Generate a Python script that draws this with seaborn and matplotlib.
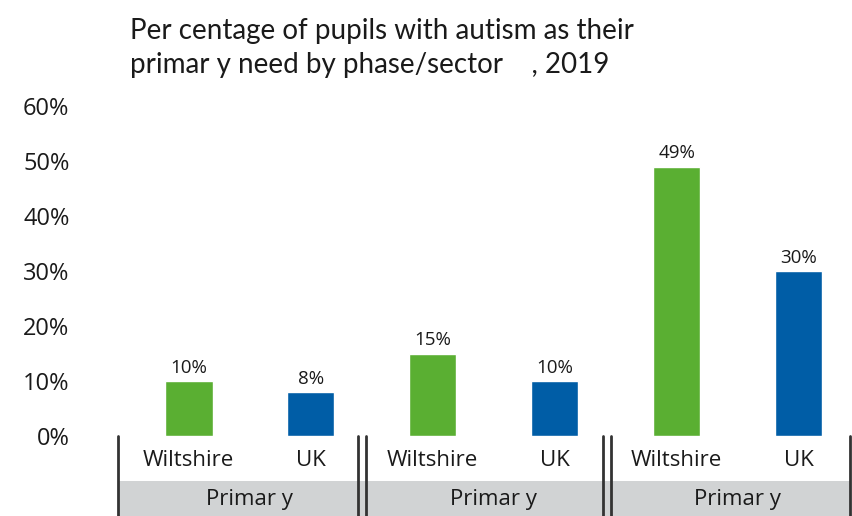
import matplotlib
matplotlib.use("Agg")
import matplotlib.pyplot as plt
import seaborn as sns
import pandas as pd
from matplotlib.patches import Rectangle

# Data
groups = ["Primar y", "Primar y", "Primar y"]
areas = ["Wiltshire", "UK"]
wiltshire = [10, 15, 49]
uk = [8, 10, 30]
y_ticks = [0, 10, 20, 30, 40, 50, 60]
title = "Per centage of pupils with autism as their\nprimar y need by phase/sector    , 2019"

rows = []
for g, (w, u) in enumerate(zip(wiltshire, uk)):
    rows.append({"slot": f"{g}-Wiltshire", "area": "Wiltshire", "value": w})
    rows.append({"slot": f"{g}-UK", "area": "UK", "value": u})
df = pd.DataFrame(rows)

sns.set_theme(style="white")
plt.rcParams["font.family"] = ["Open Sans", "DejaVu Sans"]

fig = plt.figure(figsize=(8.52, 5.16), dpi=100)
ax = fig.add_axes([118 / 852, 1 - 436 / 516, (851 - 118) / 852, (436 - 106) / 516])

palette = {"Wiltshire": "#5AAF32", "UK": "#005DA6"}
sns.barplot(data=df, x="slot", y="value", hue="area", palette=palette,
            dodge=False, width=0.39, legend=False, ax=ax, saturation=1)

ax.set_ylim(0, 60)
ax.set_xlim(-0.58, 5.43)
ax.set_yticks(y_ticks)
ax.set_yticklabels([f"{t}%" for t in y_ticks], fontsize=17, color="#1a1a1a")
ax.tick_params(axis="y", length=0, pad=35)
ax.set_xticks(range(len(df)))
ax.set_xticklabels(df["area"], fontsize=16, color="#1a1a1a")
ax.tick_params(axis="x", length=0, pad=10)
ax.set_xlabel("")
ax.set_ylabel("")
for s in ax.spines.values():
    s.set_visible(False)

# Value labels above each bar
for i, v in enumerate(df["value"]):
    ax.text(i, v + 0.8, f"{v}%", ha="center", va="bottom", fontsize=13.5, color="#1a1a1a")

# Grey band with group labels under the axis
fig.patches.append(Rectangle((118 / 852, 0.0), (851 - 118) / 852, (516 - 481) / 516,
                             transform=fig.transFigure, facecolor="#D1D3D4",
                             edgecolor="none", zorder=0))
group_centers = [0.5, 2.5, 4.5]
for c, g in zip(group_centers, groups):
    x_fig = fig.transFigure.inverted().transform(ax.transData.transform((c, 0)))[0]
    fig.text(x_fig, 1 - 499 / 516, g, ha="center", va="center", fontsize=16, color="#1a1a1a")

# Group separator lines
separators = [-0.58, 1.385, 1.45, 3.40, 3.465, 5.42]
for sx in separators:
    x_fig = fig.transFigure.inverted().transform(ax.transData.transform((sx, 0)))[0]
    fig.add_artist(plt.Line2D([x_fig, x_fig], [0, 1 - 436 / 516], transform=fig.transFigure,
                              color="#333333", linewidth=2))

fig.text(130 / 852, 1 - 18 / 516, title, ha="left", va="top", fontsize=20,
         family=["Lato", "DejaVu Sans"], color="#1a1a1a", linespacing=1.4)

fig.savefig("out.png", dpi=100)
